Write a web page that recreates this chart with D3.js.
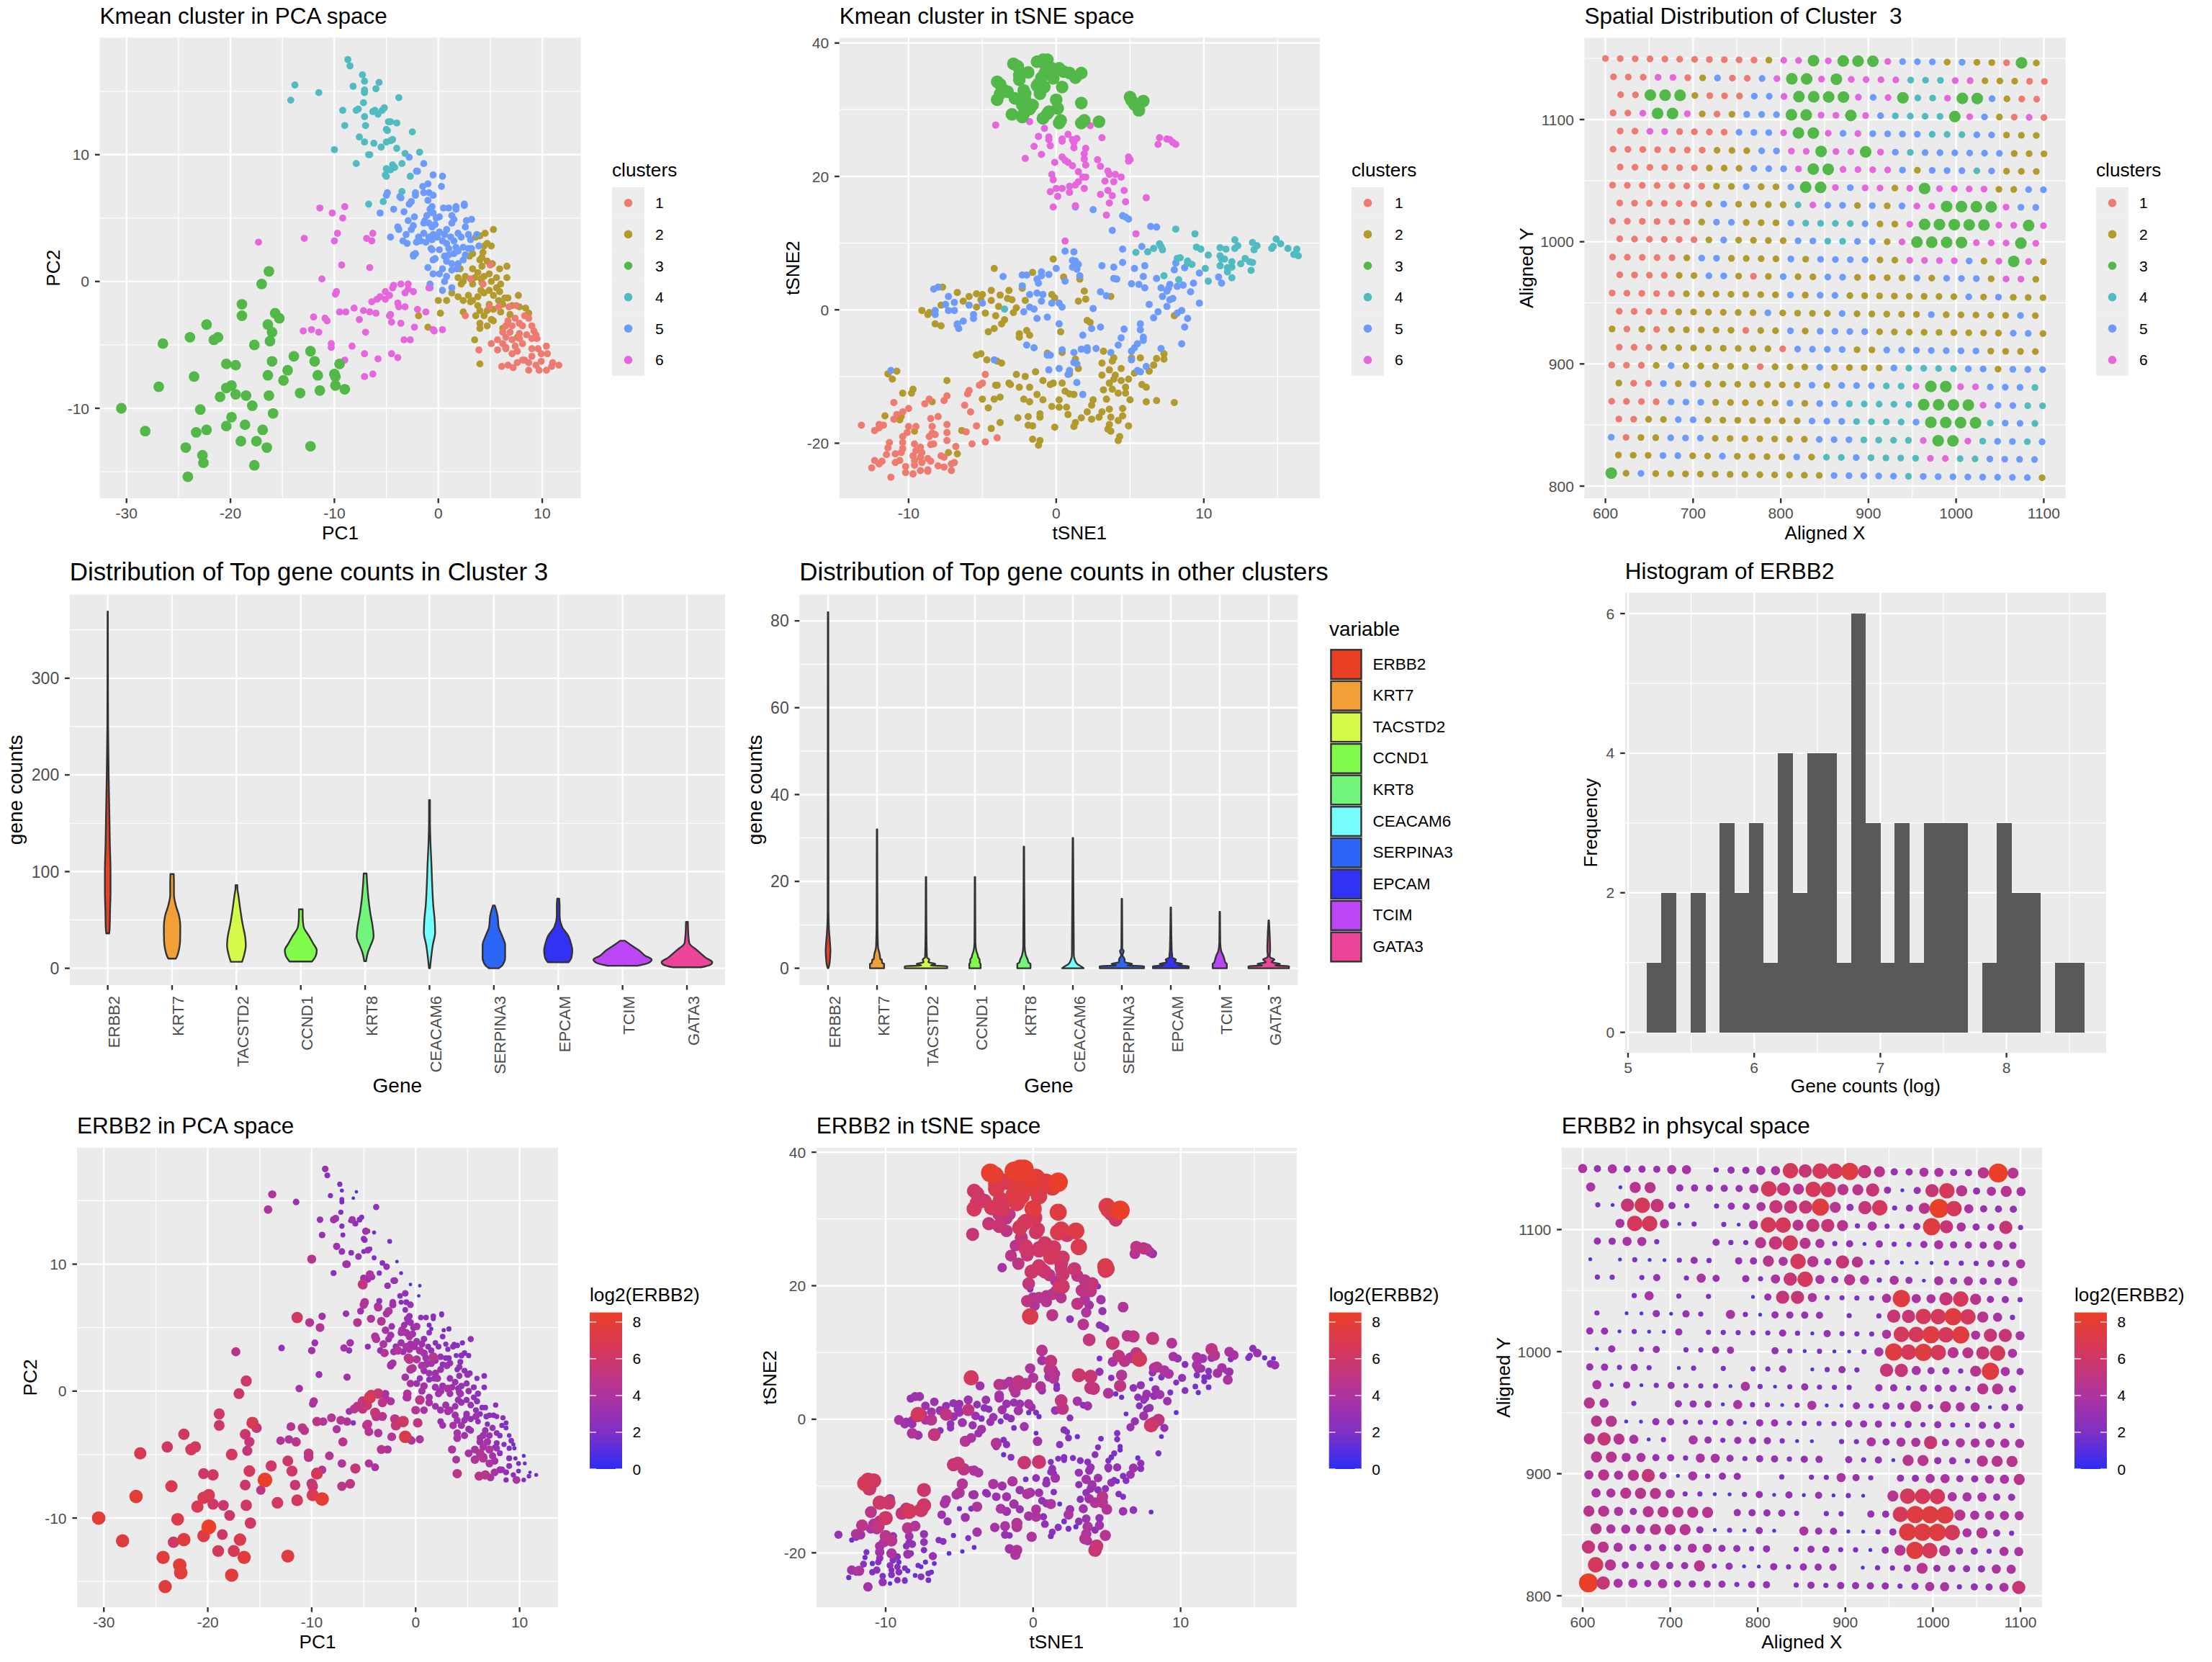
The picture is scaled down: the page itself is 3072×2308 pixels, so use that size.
<!DOCTYPE html>
<html><head><meta charset="utf-8">
<script src="https://d3js.org/d3.v7.min.js"></script>
<style>html,body{margin:0;padding:0;background:#fff}svg{display:block}text{font-family:"Liberation Sans",Arial,sans-serif;white-space:pre}</style>
</head><body><svg id="c" width="3072" height="2308"></svg>
<script>
// ---------- PCA points: [PC1, PC2, log2(ERBB2)]
const pcaCluster1=[[3.1,.2,3],[4.3,-.2,3.5],[5,1.3,3],[4.9,-2,3],[5.8,-2,3.4],[6.8,-2,2.6],[7.5,-1.9,2.4],[8.3,-2.7,2.2],[8.7,-2.9,2],[2.6,-2.7,3.2],[7.4,-2.9,2.8],[6.7,-3.1,3],[7.8,-3.3,2.5],[6.5,-3.5,3.4],[7.1,-3.5,3],[8.1,-3.5,2.4],[9,-3.5,1.8],[6.2,-4,3.4],[6.9,-4,3.6],[7.8,-4.1,2.6],[8.5,-4.2,2.2],[9.2,-3.9,2.4],[9.4,-4.2,1.6],[6.5,-4.4,3.6],[7.1,-4.6,4],[7.8,-4.5,3],[9,-4.5,2.2],[9.5,-4.5,1.6],[5.7,-4.6,3.8],[5.1,-4.9,3.8],[6.2,-4.9,4.4],[7.4,-5.1,3.4],[8.1,-4.9,2.6],[3.9,-5.4,3.8],[5.7,-5.4,4.2],[6.5,-5.2,4.2],[7.6,-5.5,3.6],[9,-5.3,2.6],[9.6,-5.3,1.6],[10.4,-5.1,1.4],[6.1,-6.7,4.6],[6.7,-6.6,4.8],[7.2,-6.8,3.6],[7.6,-6.4,3.8],[7.1,-5.7,3.8],[8.1,-6.2,3.2],[9,-5.9,2.6],[9.9,-5.7,2],[10.5,-5.7,1.4],[8.7,-6.4,2.6],[9.4,-6.6,2.2],[9.7,-7,3.8],[10.4,-7,1.8],[10.9,-6.7,1.8],[11.6,-6.6,1.4],[11,-6.4,1.2],[9.9,-6.3,2],[8.7,-7,2.2],[8.3,-6.2,3],[6.5,-5.3,4.4]];
const pcaCluster2=[[5.3,4.1,2.8],[3.6,3.5,2.6],[4,3.6,2.4],[4.5,3.8,2.2],[4.7,3,2.4],[5.1,2.8,2.2],[4.4,2.8,2.6],[3.3,2.2,3],[3,2,3.4],[4.3,2.3,2.6],[4.2,1.9,2.8],[4,1.7,2.4],[4.7,1.6,2.6],[5.2,1.4,2.6],[6.6,1.2,2.4],[5.9,1,2.2],[4.2,1.2,2.8],[3.3,1,3],[2.1,1,3.4],[3.8,.7,3],[4.9,.6,2.8],[2.6,.4,3.2],[1.9,.3,3.4],[2.4,0,3.6],[3.1,.2,3.8],[3.5,.3,3],[4.4,.4,3],[5.6,.3,2.6],[6.6,.3,2.4],[6,-.2,2.8],[5.1,0,3],[4.2,-.1,3.2],[3.3,-.2,3.2],[2.2,-.2,3.4],[1.3,-.9,3.6],[0,-1.5,4.4],[.8,-1.5,3.6],[1.9,-1.2,3.2],[2.4,-1.5,3.4],[3.1,-1.6,3.6],[3.8,-1.2,3],[4.4,-.9,3],[5.3,-1.1,3],[5.9,-.8,2.8],[6.7,-1.3,2.4],[7.7,-1.1,2.2],[5.8,-1.5,2.6],[4.9,-1.8,3],[3.8,-1.9,3.4],[4,-2.3,3.2],[4.7,-2.3,3],[5.3,-2.2,2.8],[6.2,-1.8,2.4],[7.1,-1.9,2.4],[8.4,-2.1,2.2],[8.7,-2.5,2],[3.6,-2.7,3.6],[4.4,-2.7,3.4],[6,-2.4,2.4],[6.9,-2.6,2.2],[2.4,-2.4,3],[.2,-2.5,5],[-1.9,-2.7,5.4],[-1,-3.6,7],[4,-3.3,3.6],[5.1,-3,3.2],[4,-3.7,3.8],[4.7,-3.5,3.4],[5.3,-3.1,3],[7.6,-4.4,2],[3.5,-4.6,4],[4,-6.5,4.8],[6.2,-3.7,3.2],[7.8,-2,2.2],[6.4,-1.3,2.4],[3.3,-1.5,3.4],[2.9,-1.1,3.4],[4.1,-.7,3.2],[4.9,-.7,2.8],[5.6,-.5,2.6],[4.1,.2,3]];
const pcaCluster3=[[-30.5,-10,7.8],[-28.2,-11.8,7.6],[-26.9,-8.3,7.7],[-26.5,-4.9,6.8],[-24.3,-13.1,7.6],[-24.1,-15.4,7.6],[-23.9,-4.4,6.2],[-23.5,-7.5,6.8],[-23.3,-11.9,6.2],[-22.9,-10.1,7.2],[-22.7,-13.7,7.8],[-22.6,-14.3,7.8],[-22.3,-3.4,6.2],[-22.3,-11.7,7.6],[-21.6,-4.6,6.5],[-21.2,-4.4,6.2],[-21,-9.1,6.8],[-20.4,-11.4,7.2],[-20.4,-6.5,6],[-20.4,-8.4,7],[-19.9,-10.7,8.5],[-19.9,-8.2,6.8],[-19.5,-8.9,6],[-19.5,-6.6,6.2],[-18.9,-1.8,6],[-18.9,-2.7,5.8],[-19,-12.6,6.5],[-18.6,-11.3,5.8],[-18.5,-9,5.8],[-17.9,-9.8,5.8],[-17.7,-5,6.4],[-17.7,-14.5,7.6],[-17.5,-12.6,6.6],[-17,-.2,5.8],[-16.9,-11.7,7],[-16.5,-13.1,7.6],[-16.4,-3.4,5.8],[-16.4,-7.4,5.8],[-16.3,-9,6.2],[-16.3,.8,6],[-16.2,-4.7,5.4],[-16,-4,5.4],[-16,-6.3,6.4],[-15.9,-10.4,6.2],[-15.7,-2.5,6.8],[-15.3,-2.9,5.4],[-14.9,-7.8,4.8],[-14.5,-7,8.4],[-13.9,-5.9,6],[-13.3,-8.8,6.4],[-12.3,-5.5,5.8],[-12.3,-13,7.4],[-11.9,-6.3,6],[-11.6,-7.4,5.6],[-11.4,-8.6,6.4],[-10,-7.3,5.6],[-9.9,-7.5,5.6],[-9.9,-8.2,6.8],[-9.5,-6.5,6.6],[-9,-8.5,7.9]];
const pcaCluster4=[[-8.7,17.5,3],[-8.5,17,2.5],[-7.3,16.3,2.2],[-7.1,15.8,1.5],[-5.7,15.7,1.2],[-6,15.2,1.2],[-8.2,15.4,2.2],[-7.1,15.1,2],[-7.1,14.9,2],[-13.8,15.5,4],[-11.5,14.9,3],[-14.2,14.3,4.2],[-3.8,14.5,2.8],[-7.2,14.1,2.2],[-9.2,13.5,3],[-7.9,13.5,3.4],[-7.7,13.6,3.4],[-6.1,13.5,3.4],[-6.3,13.4,1.5],[-5.8,13.2,2.6],[-5.4,13.5,2.5],[-5.2,13.7,2.2],[-7.1,13,2.2],[-9,12.3,3],[-7,12.3,2],[-4.8,12.6,3.5],[-4.6,12.6,2],[-4,12.5,1.5],[-5,12,2.5],[-4.9,11.9,2.5],[-2.5,11.8,2],[-7.6,11.4,3.4],[-7.1,11,3],[-6.2,10.9,2.4],[-5.5,10.6,3],[-5,11,2],[-4.6,11.1,3],[-4.4,11.2,2],[-4,10.5,2],[-10,10.4,4.6],[-6.6,10,3.6],[-6.7,10,3.6],[-3.2,10.1,2.4],[-1.8,10.2,1.2],[-7.9,9.3,2.6],[-3.5,9.3,2.2],[-4.4,9.2,4],[-4.2,9,3],[-5,8.9,3.4],[-4.6,8.8,3.2],[-5.1,8.4,5.2],[-5,8.3,3.4],[-2.7,8.3,3],[-3.5,7.1,2.6],[-6.7,6.1,3],[-5.3,6.3,3.2]];
const pcaCluster5=[[-2.8,9.8,3],[-1.4,9.3,1.4],[-2.1,8.7,3.2],[-2,8.7,3],[-.5,8.4,1.2],[.4,8.3,1.2],[-1,7.7,3],[-1.5,7.5,2.4],[.3,7.5,1.2],[-1.4,7,2],[-.9,7,2.6],[-.5,6.8,3],[-2.2,7,3],[-2.2,6.8,3.4],[-3.7,6.7,3],[-3.6,6.6,4.2],[-4.9,7,4.2],[-5,6.8,4],[-2.6,6.3,4],[-2.8,6.1,3.6],[-1,6.4,2.4],[-.6,5.9,3],[2.5,6.1,2],[2.5,6,2],[.5,5.8,2.4],[1,5.8,2.4],[1.7,5.9,2.4],[1.7,5.7,2],[-4.3,5.7,4],[-5.6,5.4,4.4],[-3.3,5.5,4.4],[-2.3,5.1,3],[-.8,5.7,3.2],[-.7,5.5,3],[-1.1,5.2,3],[-.5,5.4,3.2],[-.2,5,3.2],[.1,5.1,3.6],[-1.3,4.8,3.8],[-.9,4.6,3.6],[1.3,5.2,2],[1.5,4.9,1.6],[1.3,4.6,2.4],[2.7,4.8,1.6],[3.2,4.9,2.2],[-2.9,4.8,3.6],[-3.9,4.3,4],[-3.8,4.1,4],[-2.4,4.4,3.4],[-2.6,4.1,3.2],[-1.4,4.6,3.2],[-.3,4.5,3.4],[-.6,4.3,3.6],[2.6,4.3,2.4],[3.7,3.7,2],[-3.1,3.7,3.8],[-4.6,3.5,2.6],[-3.4,3.2,3],[-3,3,4.2],[-1.9,3.5,3],[-1.4,3.8,3.4],[-.9,3.5,3.8],[-.5,3.7,3.4],[.1,3.9,3.4],[.8,4.1,3],[.6,3.7,3.2],[1.2,3.5,2.6],[1.9,3.8,2.4],[2.9,3.7,2.2],[-2.1,3.1,3.4],[-1.7,3.2,4.2],[-1.2,3.1,3],[-.6,3.3,3.6],[-.1,3.5,3.2],[.4,3.2,3.8],[.8,3,3.6],[1.5,3.2,2.8],[2.2,3.5,2.6],[3.1,3.3,2.2],[3.9,2.8,2],[-.7,2.6,4.8],[-.6,2.5,4.6],[.1,2.5,4],[1,2.6,3.4],[1.7,2.7,4.6],[2.4,2.7,3],[2.9,2.6,2.4],[3.2,2.6,2.4],[-2.4,2,3.6],[-2.2,2.2,3.6],[-2.4,2.1,3.2],[-.3,1.8,4.2],[.6,2,3.8],[1,2.1,3.4],[1.5,2.2,3.6],[1.9,2.4,3],[2.6,2.1,2.6],[-.5,1.7,4.2],[2.4,1.7,3.2],[1.3,1.4,3.2],[1.9,1.4,3.4],[.8,1.6,3.2],[-1,1.1,3.6],[.4,1,2.8],[1.3,.9,2.6],[1.8,1,3],[-.5,.6,3.6],[.1,.6,3.2],[.8,.4,3.6],[-.8,-.2,4.2],[.6,0,3.4],[.4,-.7,5],[1.3,-.5,3.4],[-.8,-.5,4]];
const pcaCluster6=[[-17.3,3.1,4.6],[-12.9,3.4,3],[-11.4,5.8,6.2],[-10.2,5.4,4.5],[-9.2,5,4.4],[-9,5.9,3.5],[-9.7,3.8,3.2],[-10,3.2,3.6],[-6.9,3.4,3.5],[-6.4,3.2,2.8],[-6.3,3.8,3.6],[-9.3,1.3,3.2],[-6.6,1.1,3.4],[-11.2,.2,3.6],[-9.8,-.8,4],[-9.9,-1,3.6],[-9.5,-2.4,4.8],[-8.9,-2.4,4.2],[-8.1,-2.1,4.4],[-7.2,-2.3,4.4],[-6.6,-2.4,4.2],[-6,-2.5,2.2],[-6.4,-1.6,3.2],[-5.9,-1.4,4.6],[-5.6,-1.2,4.8],[-5.1,-1.4,5],[-4.7,-1.1,5.6],[-5.1,-.8,5.2],[-4.4,-.5,6.8],[-4.3,-.3,5.4],[-3.6,-.2,5.6],[-2.9,-.2,3.6],[-2.9,-.6,4.2],[-3.2,-.9,4.8],[-2.4,-.8,4],[-3.9,-1.7,5.4],[-3.8,-2,4.8],[-3.2,-2,4.6],[-2,-2.2,5],[-1.2,-2.4,6.2],[-4.6,-2.6,4.4],[-4.7,-2.7,4.8],[-4.5,-3.2,4.4],[-3.6,-3.3,4.2],[-2.3,-3.6,4.4],[-3.3,-4.6,4.6],[-2.7,-4.6,4],[-7.6,-3,4],[-12,-2.8,4.4],[-10.9,-2.9,4.8],[-10.7,-3.1,4.6],[-13,-3.9,4.2],[-12.2,-3.8,4.2],[-11.5,-4,4.8],[-7,-4,4.6],[-10.3,-4.9,5],[-10.3,-5.2,5],[-8.3,-5.1,4.4],[-7.1,-5.7,4.2],[-5.8,-6.1,5.4],[-4.5,-5.7,4],[-3.9,-6,3.8],[-9,-6.2,4.2],[-7.1,-7.5,4.8],[-6.3,-7.3,5],[-.5,-3.8,3.6],[-.4,-3.9,4],[.4,-3.8,4],[-.9,-.5,3.6]];
// ---------- tSNE points: [tSNE1, tSNE2, log2(ERBB2)]
const tsneCluster1=[[-4.8,-9.7,4.4],[-5,-11,4.2],[-5.2,-11.3,3.8],[-5.9,-12.1,3.8],[-6,-12.6,3.8],[-7.4,-12.9,6],[-7.6,-13.6,6],[-8.6,-13.4,5],[-8.9,-14.1,5.2],[-10,-14.8,6],[-11,-13.9,4.8],[-10.4,-15.3,4.8],[-10.8,-15.7,4.4],[-11,-16.4,3.8],[-8.5,-16.3,4.6],[-8,-16,4.2],[-13.2,-17.3,3],[-12,-17.2,4],[-11.7,-17.3,3.6],[-12.3,-18.1,1.6],[-12,-17.7,2.4],[-6.2,-14.3,3.2],[-5.8,-15.3,3],[-5.4,-17.4,1.6],[-7.4,-17.2,3],[-9.5,-17.5,3],[-10,-17.5,4.8],[-10.1,-18.4,4],[-10.4,-19,3.6],[-8.4,-17.5,3.2],[-8.4,-18.5,2.8],[-8.6,-19,2.4],[-8.2,-18.7,2.8],[-7.4,-18.4,2.8],[-6.1,-18.3,2.4],[-4,-19.2,1.4],[-4.8,-19.8,1.2],[-5.7,-20.1,1.4],[-7.4,-19.6,2.2],[-6.8,-20.5,3],[-11.3,-19.9,2],[-11.4,-20.7,1.6],[-10.4,-19.9,3.6],[-10.4,-20.8,2.6],[-10.5,-21.4,2.2],[-9.6,-20.1,4],[-9.2,-20.6,2.4],[-9.1,-21.4,1.6],[-8.5,-20.2,3.4],[-8.3,-20.1,2.2],[-10.9,-21.6,1.6],[-11.5,-21.7,2.4],[-12.3,-22.6,3.6],[-12,-23.1,1.4],[-11.8,-22.7,4],[-12.5,-23.7,1.6],[-10.9,-22.9,2.2],[-10.6,-22.6,2.6],[-9.7,-21.9,2.4],[-9.6,-22.6,2],[-9.1,-22.9,2.4],[-8.5,-22.7,1.6],[-7.8,-21.9,1.6],[-7.6,-22.1,1.4],[-8,-23.4,1.4],[-7.6,-23.6,2.4],[-7.1,-23.1,2],[-6.9,-22.9,1.6],[-9.6,-23.3,2.4],[-10.2,-23.5,2.2],[-10.2,-24.4,3],[-9.7,-24.6,1.2],[-9.2,-24.1,2.2],[-8.7,-24,1.4],[-8.7,-24.2,2],[-7.1,-24.1,1.8],[-11.2,-25.1,3.6],[-9.2,-22.1,2.2],[-8.7,-22.3,1.8],[-9.5,-21.1,2.4]];
const tsneCluster2=[[-.2,7.6,4],[-4.2,6.2,6.4],[-1.6,5.6,4],[.5,4.9,4.2],[1.6,4.6,2.4],[-7.7,3.4,3.4],[-6.7,2.6,3.2],[-4.4,2.9,3.4],[-3.2,2.9,3.2],[-2.3,3.2,3.6],[1.9,2.8,5.2],[-5.4,2.4,3],[-5,2.3,3],[-5.9,2,3],[-6.3,1.3,3.4],[-5.1,1.5,3.2],[-4.4,1.4,5],[-3.8,2.2,2.8],[-3.3,1.7,2.8],[-3,1.5,2.6],[-3.9,.5,3.2],[-5.4,.4,3.2],[-7.8,.7,6.4],[-9.1,-.1,3.8],[-8.7,-.7,3.4],[-8.6,-.4,3.2],[-4.8,-.5,3.4],[-4.1,-.9,3],[-2.9,-.4,3],[-2.7,.3,3.2],[-2.1,1.4,3.4],[-.3,2.3,3.6],[-.1,1.8,3],[3.7,2,3.4],[1.5,1.3,3.2],[2,1.6,5],[8,-.9,6],[-8.2,-2.1,4.2],[-7.8,-2.4,3.4],[-6.7,-2.3,5.2],[-3.5,-1.5,3.4],[-3.7,-2.1,3],[-4.2,-2.8,3.8],[-4.6,-3.3,4.4],[2.1,-1.6,2.6],[2.3,-1.9,2],[-2.5,-3.6,4.4],[-2.5,-4.1,2.6],[-2,-3.1,2.2],[-1.8,-3.8,2.6],[.3,-3.3,3.6],[-.6,-6.5,5.6],[.4,-6.4,5.8],[-5.4,-6.8,5.4],[-5.1,-6.6,5.6],[-4.7,-7.5,5],[-4,-7.7,4],[-3.7,-8,3.6],[1.3,-7.4,2.8],[1.5,-8.8,3.6],[3.1,-8,3],[3.2,-6.2,2.4],[3.8,-7.7,3],[3.9,-7.2,3],[3.6,-9,3.6],[4.4,-8.8,3.2],[5.1,-7.2,3],[5.7,-7.2,3],[6.8,-7.3,3.4],[6.6,-8.3,3.2],[7.3,-6.6,2.6],[7.3,-7.4,2.4],[5.3,-9.5,3],[6.3,-9.2,2.4],[-1.4,-9.3,4],[-.9,-10.6,3.2],[-2.7,-9.7,4],[-2.1,-10,3.4],[-3.2,-11,2.8],[-3.1,-11.2,2.6],[-4.1,-11.3,3.2],[-4,-11.3,3.4],[-2.5,-11.6,3.2],[-1.8,-11.6,3.4],[-.4,-11.2,4],[-.2,-11,3.8],[.4,-11,3.2],[.9,-9.6,3],[3.1,-9.8,2.6],[4,-9.8,3.4],[3.9,-10.4,3],[4.4,-10.6,2.6],[4.9,-10.4,2.6],[3.6,-11,2.8],[3.8,-11.9,3.6],[3.2,-12,2.6],[5.8,-11.2,2.2],[6.1,-11.6,2],[4.7,-11.6,4.6],[.6,-12.2,2.8],[.9,-12.6,3],[1.2,-12.7,4],[-5,-13.4,1.6],[-4.2,-13.4,2],[-3.8,-13.1,4],[-2.2,-13.4,3.8],[-1.3,-12.7,3.6],[-1.8,-13.8,3.4],[-.9,-13.5,3],[.2,-13.5,3.8],[-.3,-14.5,3.6],[.2,-14.6,4],[.7,-14.6,2.6],[-4.6,-14.7,3.4],[2.5,-13.5,3.2],[2.4,-14.3,3.8],[3.4,-13.4,3.4],[4.2,-12.5,4.2],[4.7,-12.5,4.4],[5,-13.5,4.2],[6.1,-13.8,3.2],[6.8,-13.6,2.8],[8,-13.9,1.4],[4.5,-14.8,3],[3.6,-14.9,3.2],[3.1,-15.3,2.8],[2.1,-15.3,1.8],[1.7,-16.2,2.6],[.8,-15.7,2.8],[1.3,-16.9,2.4],[1.2,-17.5,2],[2.4,-16.4,2],[2.9,-16.1,1.6],[3.7,-16.1,4],[4.5,-15.9,3.4],[4.2,-16.6,2.6],[4.9,-17.4,4.4],[3.6,-17.2,4],[3.5,-17.9,4.4],[3.7,-18.2,3.4],[-2.6,-16.2,3.6],[-1.9,-16,3.8],[-1.1,-15.6,4.4],[-1.1,-16.1,4.2],[-1.9,-17.3,3],[-1.6,-17.4,2.2],[-.1,-17.6,4],[-3.8,-16.9,3.6],[-4.4,-17.8,2],[-1.6,-19.4,3.6],[-1.1,-19.6,4.2],[-1.2,-20.3,4],[4.3,-19,5.6],[4.2,-19.6,5.6],[-7.4,-10.6,5.8],[-10.4,-12.5,6],[-9.7,-11.9,3.6],[-9.8,-12.5,5.8],[-10.8,-9.2,6.2],[-11.4,-9.6,6.6],[-11.1,-10.4,5.8],[-8.4,-13.8,6.4],[-11.6,-15.9,4.8],[-10.5,-16,5.2],[-10.6,-16.5,3.8],[-9.6,-18.2,4.6],[-6.4,-18.1,2.2],[-7.3,-21.4,1.6],[-6.7,-21.6,1.4]];
const tsneCluster3=[[-2.9,36.9,8.2],[-2.6,36.5,8],[-2.5,35.2,7],[-2.5,34.5,7],[-1.9,35.6,7],[-4,34.2,6],[-3.8,33.8,6],[-3.6,33,6],[-3.3,32.7,6],[-4,31.5,6.4],[-3.8,32.4,6.2],[-2.8,31.7,6.5],[-2.2,32.9,6.5],[-2.1,32.4,6.5],[-2.1,31.5,6.5],[-2.3,30.7,5.5],[-1.6,30.7,5],[-1.8,30.1,5],[-2.2,29.4,5],[-2.3,28.9,5.5],[-3,29.3,5.5],[-1.3,37.2,8.2],[-.9,37.5,8.2],[-.6,37.5,8.2],[-.7,36.5,7.8],[-.8,35.4,7.5],[-1,34.8,7.5],[-1.2,33.9,6.5],[-1.3,33.6,7.3],[-1.1,32.4,7],[-.8,33.4,7.2],[-.3,36.2,8],[-.2,34.7,7.5],[.2,36.2,7.8],[.4,33.4,7],[.5,35.7,7.2],[.9,35.5,7.5],[1.3,34.8,7.5],[1.7,35.5,8.4],[0,31.5,7.5],[.1,30.2,6.5],[-.5,29.7,6],[-.9,28.7,6.5],[-.6,29.4,6.5],[.3,28.4,6.2],[.2,28,6],[1.7,31,7.4],[1.7,28,7],[1.9,28.4,7],[2.9,28.2,7.3],[5,31.9,7.2],[5.1,31.4,6.8],[5.3,30.8,6.2],[5.6,29.9,5.8],[5.9,31.3,8.4]];
const tsneCluster4=[[8.1,12.1,5.4],[9.4,11.4,4.2],[5.4,8.6,3.8],[6.2,8.7,4.8],[6.6,9.2,4.2],[7,9.9,4.8],[7.2,9,6.5],[7.1,9.5,4.5],[7.3,5.1,3],[8.3,4.5,3],[8.2,7.7,4],[8.4,7.8,4.4],[8.9,7.3,4],[8.9,7,3.4],[9.2,6.8,3.8],[9.5,9.4,3.6],[9.8,9.1,3],[10.3,8.2,2.4],[10.1,6.2,3],[10.3,4.3,2.4],[11.1,9.3,3.8],[11.5,9.1,3.4],[12.1,10.5,5],[12.1,9.2,3],[12.3,9.6,4.4],[11.1,8.1,3.8],[11.2,7.6,3.4],[11.4,7.6,3],[11.1,6.6,2.2],[11.6,6.3,1.8],[11.6,5.7,2],[11.9,7.2,2.4],[11.9,6.4,2.2],[11.9,4.8,1.8],[12.5,6.9,3.6],[12.8,7.7,3.6],[13.1,7.2,2],[13.2,5.9,3.8],[13.3,7.1,3.2],[13.3,10.1,3.8],[13.6,9.6,3.8],[13.4,9,2],[14.6,9.2,2.2],[14.7,9.5,2],[14.9,10.6,2.6],[15.2,9.9,3.2],[15.7,9.2,1.6],[16.1,8.3,2.8],[16.3,9.1,1.4],[16.4,8.1,3.2],[-3.5,.1,2.2]];
const tsneCluster5=[[1.3,15.4,3.6],[2.5,15,2.8],[4.5,14.1,2.6],[4.7,13.9,2.4],[4.9,13.6,2.8],[3.8,11.9,5.2],[6.4,12.5,4.6],[6.8,12.4,5],[.6,8.8,3.6],[1.2,8.7,5.2],[1.1,7.4,4.6],[1.3,7.3,4.6],[1.5,6.8,3.8],[1.1,6.4,4],[1.4,6.1,4.2],[0,6.2,4],[.6,4.3,3],[1.6,5.1,2.2],[-3.6,5,3.4],[-2.3,5.2,4.6],[-2,5.2,4],[-1,5.7,5],[-1,5.1,4.6],[-.5,5.3,4.8],[-1.3,4.6,4.4],[-1.2,4,4],[3.1,6.6,5.8],[3.9,6.4,5.6],[4.5,9.1,1.8],[4.5,7.1,3],[5.8,9.5,5],[6,6.6,4.4],[5.3,6.2,2.2],[5.9,5,5],[5.1,3.9,4.2],[5.6,3.8,1.6],[6,3.3,1.6],[6.8,4.7,2.8],[8,6,1.2],[8.1,7,2.8],[8.7,6.3,2.2],[9.7,5.5,2],[9.3,4,2],[11,4.9,1.8],[11.2,4,1.6],[7.1,3.3,2.6],[7.7,3.8,3.2],[7.6,3.2,3],[7.5,2.8,2.4],[8.6,3.7,3.4],[8.2,3.5,3],[7.2,2,2.4],[7.9,1.7,3],[7.7,1.5,2.6],[9.1,2.7,3.2],[9.7,1,1.4],[6.3,.8,1.4],[7.5,.5,3.4],[8.2,-.5,5],[8.5,-.1,5],[6.9,-.3,3],[6.6,-1.2,3],[8.9,-1.3,3],[8.7,-2.6,1.4],[8.5,-5.1,2],[3.9,4.7,5.2],[4.1,4.6,5.2],[3,2.7,3.6],[3.4,2.1,2.4],[-8.3,3.1,3],[-8,3.4,3.4],[-7.3,2,3.2],[-6.9,1.1,3.4],[-7.5,.8,3.4],[-8.2,-.1,3],[-8.2,-.7,3.2],[-7.3,-.1,3.6],[-6.9,-.1,4.6],[-5.9,.7,5],[-5,1,3.2],[-5.6,-.7,2.8],[-5.6,-1.3,2.6],[-6.3,-1.7,2.4],[-6.7,-2.1,2.2],[-6.6,-2.8,2],[-2.3,3.6,3.6],[-1.8,2.3,3.2],[-1.3,2.5,3],[-.9,2.3,3.2],[-1,1.3,3.6],[-.3,1,1.6],[-2.2,-.3,2],[-1.8,.4,2.4],[-1.5,.1,2.8],[-1.3,-1.3,1.8],[-.6,-1.1,3.4],[.2,1,2],[.4,.4,1.6],[2.5,.2,2.4],[.2,-2.1,1.4],[2.4,-2.8,2.4],[3,-2.6,1.6],[1.8,-3.8,2.6],[4.6,-2.9,1.8],[5.7,-2.1,2.2],[5.7,-3,2],[5.9,-4.1,1.6],[5.9,-4.6,1.6],[5.5,-5.1,2],[5.3,-5.7,1.8],[4.4,-4.2,2],[4.2,-5.3,2.4],[-2,-5.3,1.6],[-1.5,-5.7,2.4],[2.1,-5.7,2.2],[2.7,-5.8,2],[2.1,-6.1,2],[.4,-6,2.2],[1.2,-6.4,2],[1.7,-5.9,2],[3.7,-6.4,2.4],[7.1,-5.8,1.6],[5.1,-6.2,2],[-.6,-6.8,1.8],[-.4,-6.8,1.6],[-4.2,-7.5,2.4],[1.2,-7.9,2.6],[1.4,-8.1,2.2],[-.5,-9,1.8],[.2,-8.8,2.8],[.9,-9.1,2.4],[.8,-9.7,1.6],[1.4,-10.9,2.2],[5.1,-7.5,2.2],[5.5,-9.1,2],[5.7,-9.3,1.6],[6.1,-8.5,2.2],[1.8,-12.7,1.4],[-11.2,-9.1,6.2]];
const tsneCluster6=[[-4.1,27.7,5.4],[-1.8,28.2,5],[-.8,27.2,5.4],[2.3,27.6,6],[-1.2,26,4.6],[-.5,25.9,6],[-.5,25.5,6],[-1.5,24.5,4.8],[-.4,24.6,5.4],[-1,23.3,5],[.4,25.6,6],[.4,25.3,6],[.8,26.3,6.2],[1.1,25.5,6.2],[1.4,25.7,6.2],[1.2,25.1,6],[1.2,24.3,6.5],[2,24.2,6],[3.1,25.8,7],[1.9,23.4,5.8],[-2.1,22.7,3.6],[-.1,22.1,6],[.4,22.9,6],[.6,22.4,5.8],[.8,22.1,5.6],[1.1,21.6,5],[1.5,20.7,4],[1.9,22.6,5.4],[2,21.7,5.8],[2.8,22.5,5.6],[3,21.5,5],[3.5,20.8,5],[3.6,20.3,4.6],[4,20.3,5.4],[4.4,19.9,2],[3.9,19.2,5],[3.3,19.3,5],[-.3,20.3,5.2],[-.2,19.5,2.4],[1.8,19.9,6],[2,19.9,6],[1.5,19.2,4],[1.3,18.7,4.6],[.9,18.5,4.5],[.4,18.2,4.6],[0,18.2,4.4],[-.4,17.7,5],[.1,17,4],[.9,17.6,4.5],[1.9,18.2,4.4],[3,17.3,5],[3.5,17.9,4.2],[3.8,17.1,3.6],[4.6,17.9,3.6],[3.6,16,4],[4.7,16.2,3],[6.1,16.8,4.2],[-.2,15.4,7],[1.3,15.6,4.8],[3.4,14.2,4.6],[5.4,11.4,5.6],[.6,10.3,4.6],[4.9,22.9,7],[5,22.5,6.6],[4.9,22.3,6.4],[7,25.8,5],[6.9,24.8,4.2],[7.5,25.6,5],[7.7,25.5,4.4],[7.9,25.1,3.8],[8.1,24.8,3.4]];
// ---------- spatial grid
const spotRowY=[1150,1134.9,1120.3,1105.4,1090.6,1075.7,1061.1,1046.3,1031.7,1016.9,1002.3,987.4,972.9,958,943.1,928.6,913.7,899.1,884.3,869.4,854.9,840,825.4,810.6];
const spotRowX=[600,609.2,617.3,608.7,616.8,608.7,616.8,608.1,616.3,608.1,616.3,608.1,616.3,607.6,615.8,607.6,615.8,607.1,615.3,607.1,615.3,606.6,614.8,606.6];
const spotColDX=[0,16.9,33.9,50.8,67.8,84.7,101.7,118.6,135.6,152.5,169.5,186.4,203.4,220.3,237.3,254.2,271.2,288.1,305.1,322,339,355.9,372.9,389.8,406.8,423.7,440.7,457.6,474.6,491.5];
const spotColDY=[0,-.13,-.26,-.39,-.52,-.65,-.78,-.91,-1.04,-1.17,-1.3,-1.43,-1.56,-1.69,-1.82,-1.95,-2.08,-2.21,-2.34,-2.47,-2.6,-2.73,-2.86,-2.99,-3.12,-3.25,-3.38,-3.51,-3.64,-3.77];
const spotClusters=[
"111111111112 66 3 6 333 6 555 2 5 22 1 3 2","111 66 1 2 5 11 5 6 33 6 3 6666 444 66 222 11","11 333 2 111 55 6 3333 6 5 6 3 44 6 33 5 2 11","11 6 33 6 2 1 2 555 33 66 3 6 5 4444 3 6 5 2 1 6 1",
"11 66 1111 555 6 33 6 5 6 5555 444 55 222","1111111 222 55 66 3 66 3 6 5 4 555555 222","111111 222 555 6 33 6666 5 2 555 4 5 222","1111111 22 5 22 5 33 6 5 66 2 6 3 6666 22 55",
"111111 2 5 2222 4 6 55 2 5 2 5 66 3333 6 55","111111 2 55 222 5 4444 5 22 6 33333 66 3 6","111111 2 5 2222 55 44 55 2 6 3333 666 3 6","11111 2 55 2222 5 2 5555 22 6666 5 2 6 3 6 2",
"1111 22 55 2 1 2 5 22 55 2222 5 2 555 2 66 2","11111 2222222 5 2 55 22222222 5 2 5 222","1111 222222 5 2222 5 22222 5 22222 5 2","2 1 2 1 22222 1 22 5 2 5555 222222222 55 2",
"111 22222222 1 5555 22 5555555 2222","111 2 5 22222 1 222 5 2222 5 4444 55 2 555","2 11 5 2 5 2222222 5 2 555 44 6 33 66 555 4","1111 555 22222 5 2 55 44444 3333 6 55 44",
"11 22 55 2222222 555 4444 5 3333 4 55 4","5 1 22 555 2222222 555 4444 6 33 6 4 55 4 5","222 55 22 5 2222 5 2 44 5 4444 66 44 5555","3 2 5 222222222222 55555 4 55555555 2"];
// spot ERBB2 level per spot: 0 = no spot drawn, 1..9 index into spotLevelLog2
const spotLevelLog2=[0,1.2,2,3,3.8,4.6,5.5,6.5,7.5,8.4];
const spotLevels=[
"4 3 4 3 3 3 4 4 0 2 3 3 4 4 7 6 7 7 8 6 5 3 3 4 4 3 3 5 9 5","4 0 1 5 5 0 3 3 3 3 3 4 7 6 5 7 7 5 5 6 3 1 3 6 7 5 3 4 5 4","2 1 6 7 6 3 2 0 2 3 3 4 6 6 6 8 5 3 6 7 2 3 5 9 7 4 3 3 3","0 0 4 7 7 4 1 2 0 2 1 4 7 7 5 6 6 5 2 4 2 2 3 8 6 4 3 3 6 2",
"3 3 4 4 2 0 0 0 3 2 2 5 6 7 5 4 2 3 1 3 2 2 3 4 3 3 3 4 3","1 0 1 2 1 1 2 3 2 0 3 3 5 4 7 5 3 6 5 2 2 1 1 1 2 2 2 3 3 4","2 2 0 2 3 0 2 4 3 0 3 2 4 6 7 4 3 5 4 2 4 3 1 4 3 4 3 3 4","0 0 0 2 4 0 2 0 2 0 0 1 3 6 6 4 2 2 2 2 4 8 4 4 6 7 5 3 3 2",
"2 0 1 1 3 1 3 2 0 4 2 1 3 3 3 3 0 2 0 2 6 6 7 7 8 7 5 4 2","3 3 1 2 1 1 3 0 2 2 2 2 2 3 2 1 3 2 2 2 4 7 7 8 7 8 4 6 6 4","1 3 0 2 3 0 2 2 3 3 0 0 3 2 1 2 1 1 2 4 8 7 8 7 5 5 6 7 4","3 3 2 3 2 0 1 2 0 2 0 2 2 3 0 1 2 3 2 0 6 6 4 3 3 2 5 8 4 3",
"4 1 3 1 2 3 2 2 2 1 4 2 1 2 3 2 2 2 0 3 3 2 3 3 3 2 5 5 3","5 4 0 2 0 0 3 3 3 1 4 2 2 1 2 4 1 1 3 2 3 3 5 2 5 4 4 1 3 3","5 5 1 1 3 3 2 2 2 3 1 3 3 2 2 2 2 3 3 3 2 3 2 3 2 2 3 3 2","5 6 5 4 1 2 0 4 3 2 3 3 3 2 1 1 0 2 2 4 3 4 4 6 3 4 4 4 4 4",
"5 5 4 4 3 3 2 4 4 3 2 3 3 2 3 3 0 3 2 3 1 5 5 3 3 2 5 5 5","4 5 4 5 6 3 1 4 2 3 3 0 0 2 0 2 2 4 3 2 0 3 3 4 4 3 3 4 4 5","4 4 5 5 5 4 2 2 1 1 2 3 1 3 1 3 1 2 1 0 5 7 7 7 4 4 4 3 3","5 5 4 3 5 5 5 5 5 0 3 3 3 3 2 0 2 2 0 3 3 7 8 8 8 5 4 4 4 4",
"5 4 4 4 5 5 5 3 1 2 1 3 1 0 4 3 3 1 1 2 3 8 8 8 7 4 5 3 2","6 5 4 3 3 3 3 4 4 3 3 2 3 0 2 3 3 2 2 1 3 5 8 7 5 3 3 2 4 4","7 5 3 3 4 3 3 5 2 3 1 1 3 2 3 3 3 0 1 2 2 3 5 3 3 3 3 4 4","9 6 4 4 3 4 3 3 3 3 2 3 3 0 2 3 2 3 3 3 3 2 3 4 4 2 3 3 4 6"];
// ---------- genes and violins: [count, density]
const genes=["ERBB2","KRT7","TACSTD2","CCND1","KRT8","CEACAM6","SERPINA3","EPCAM","TCIM","GATA3"];
const geneColors=["#EA4026","#F0A037","#D5FB4A","#80FB4A","#72F57B","#75FCFD","#2B66F6","#3232F5","#BC46F5","#EB4499"];
const violinCluster3=[
[[36,3],[40,4],[60,5],[80,6],[100,6],[130,4.5],[160,3.5],[200,2],[250,.8],[300,.5],[369,.3]],
[[10,8],[13,11],[20,15],[28,17],[43,17.5],[54,15],[65,8],[76,4],[87,4],[97.5,3.5]],
[[6.7,12],[13,16],[24,20],[31,19],[46,13],[65,7],[76,4],[83,2],[86,2]],
[[7,24],[13,32],[18.5,34],[26,26],[33,18],[43,6],[54,4],[61,4]],
[[7.4,2],[16.6,6],[24,12],[33,18],[43,16],[57,11],[72,7],[83,5],[98,3]],
[[0,1],[9,3],[24,7],[37,12],[50,11],[65,8],[83,6],[109,4],[131,2],[154,1],[174,1]],
[[0,10],[3,18],[11,24],[24,24],[33,18],[43,10],[54,8],[65,2]],
[[6.3,22],[11,28],[18.5,30],[26,27],[33,22],[43,8],[54,3],[65,3],[72,2]],
[[2.6,32],[5.5,55],[9,62],[13,48],[18.5,35],[24,18],[28.5,5]],
[[1,30],[3.7,50],[6.3,54],[11,40],[18.5,22],[26,5],[35,3],[48,2]]];
const violinOther=[
[[0,.5],[.5,2],[1,3],[2,4],[4,5],[6,4],[8,2.5],[10,1.5],[14,.8],[82,.5]],
[[0,15],[1,15],[1.2,11],[2,10],[2.1,7],[3,6],[5,2],[10,1],[32,.5]],
[[0,45],[.5,45],[.6,10],[1,20],[1.4,5],[2,7],[2.5,2],[8,1],[21,.5]],
[[0,12],[1,12],[1.3,10],[2,10],[2.5,7],[3,6],[4,3],[6,1],[21,.5]],
[[0,14],[1,14],[1.3,10],[2,8],[3,4],[5,1.5],[28,.5]],
[[0,23],[.4,18],[1,9],[2,4],[3,2],[30,.5]],
[[0,47],[.5,47],[.6,12],[1,22],[1.4,6],[2,6],[3,1.5],[4,4],[4.5,1],[16,.5]],
[[0,38],[.5,38],[.6,15],[1,24],[1.4,8],[2,11],[2.5,3],[3,3],[4,2],[14,.5]],
[[0,15],[1,15],[1.3,12],[2,10],[3,7],[4,3],[6,1],[13,.5]],
[[0,43],[.5,43],[.6,14],[1,24],[1.4,6],[2,12],[2.5,3],[3,2],[4,3],[11,.5]]];
// ---------- histogram
const histEdges=[5.149,5.265,5.38,5.496,5.612,5.727,5.843,5.958,6.074,6.19,6.305,6.421,6.536,6.652,6.768,6.883,6.999,7.114,7.23,7.346,7.461,7.577,7.692,7.808,7.924,8.039,8.155,8.27,8.386,8.502,8.617];
const histCounts=[1,2,0,2,0,3,2,3,1,4,2,4,4,1,6,3,1,3,1,3,3,3,0,1,3,2,2,0,1,1];
// ---------- ticks and legends
const clusterLabels=["1","2","3","4","5","6"];
const clusterColors=["#EE7B6F","#B39A2D","#52B848","#50BBC0","#6D9BFB","#E566DD"];
const log2Ticks=[0,2,4,6,8];
const log2Stops=[0,2,4,6,8.52];
const log2StopColors=["#2B2DF6","#8030C4","#AE349E","#CE3768","#EB3F26"];
const sizeStops=[1,2,3,4,5,6,7,8,8.5];
const radiusStops=[2.4,3.6,5,6.7,8.4,10,11.4,12.6,13.3];
const tsneRadiusStops=[2.7,4.2,5.7,7.2,8.6,10,11.4,12.6,13.6];
const pcaRadiusStops=[2.2,3.4,4.6,5.7,6.7,7.7,8.7,9.6,10.4];

const svg=d3.select("#c");
svg.append("rect").attr("width",3072).attr("height",2308).attr("fill","#fff");
const defs=svg.append("defs");
const TXT="#4D4D4D",TICK="#333333",BG="#EBEBEB";
function label(g,x,y,t,size,opt={}){
  const e=g.append("text").attr("x",x).attr("y",y).attr("font-size",size).attr("fill",opt.fill||"#000").attr("text-anchor",opt.anchor||"start").text(t);
  if(opt.rotate) e.attr("transform",`rotate(-90 ${x} ${y})`);
  return e;
}
function panel(c){
  const g=svg.append("g");
  const [l,r]=c.panelX||c.xs.range(),[b,t]=c.ys.range();
  const yTickSize=c.yTickSize||21,axisSize=c.axisSize||26.2,titleSize=c.titleSize||31.5;
  g.append("rect").attr("x",l).attr("y",t).attr("width",r-l).attr("height",b-t).attr("fill",BG);
  const vl=(v,w,s)=>g.append("line").attr("x1",s(v)).attr("x2",s(v)).attr("y1",t).attr("y2",b).attr("stroke","#fff").attr("stroke-width",w);
  const hl=(v,w)=>g.append("line").attr("y1",c.ys(v)).attr("y2",c.ys(v)).attr("x1",l).attr("x2",r).attr("stroke","#fff").attr("stroke-width",w);
  (c.xMinor||[]).forEach(v=>vl(v,1.2,c.xs));(c.yMinor||[]).forEach(v=>hl(v,1.2));
  c.xTicks.forEach(v=>vl(v,2.4,c.xs));c.yTicks.forEach(v=>hl(v,2.4));
  c.xTicks.forEach(v=>{
    g.append("line").attr("x1",c.xs(v)).attr("x2",c.xs(v)).attr("y1",b).attr("y2",b+6.6).attr("stroke",TICK).attr("stroke-width",2.4);
    if(c.rotX){label(g,c.xs(v)+16.5,b+15,v,22,{fill:TXT,anchor:"end",rotate:true});}
    else label(g,c.xs(v),b+27.5,v,21,{fill:TXT,anchor:"middle"});
  });
  c.yTicks.forEach(v=>{
    g.append("line").attr("y1",c.ys(v)).attr("y2",c.ys(v)).attr("x1",l-6.6).attr("x2",l).attr("stroke",TICK).attr("stroke-width",2.4);
    label(g,l-14.5,c.ys(v)+yTickSize*.36,v,yTickSize,{fill:TXT,anchor:"end"});
  });
  label(g,l,t-19.5,c.title,titleSize);
  label(g,(l+r)/2,c.xTitleY,c.xTitle,axisSize,{anchor:"middle"});
  label(g,l+c.yTitleDX,(t+b)/2,c.yTitle,axisSize,{anchor:"middle",rotate:true});
  return g;
}
function clusterLegend(lx,top){
  const g=svg.append("g");
  label(g,lx,top-15,"clusters",26.2);
  clusterLabels.forEach((k,i)=>{
    g.append("rect").attr("x",lx).attr("y",top+i*43.6).attr("width",45).attr("height",43.6).attr("fill","#EDEDED");
    g.append("circle").attr("cx",lx+22.5).attr("cy",top+21.8+i*43.6).attr("r",5.8).attr("fill",clusterColors[i]);
    label(g,lx+60,top+21.8+i*43.6+7.5,k,21);
  });
}
const eColor=d3.scaleLinear().domain(log2Stops).range(log2StopColors);
function barLegend(lx,id){
  const g=svg.append("g");
  const top=1822.6,h=217.4,ey=d3.scaleLinear().domain([0,8.52]).range([top+h,top]);
  label(g,lx,1807,"log2(ERBB2)",26.2);
  const lg=defs.append("linearGradient").attr("id",id).attr("x1",0).attr("x2",0).attr("y1",1).attr("y2",0);
  log2Stops.forEach((s,i)=>lg.append("stop").attr("offset",s/8.52).attr("stop-color",log2StopColors[i]));
  g.append("rect").attr("x",lx).attr("y",top).attr("width",45).attr("height",h).attr("fill",`url(#${id})`);
  log2Ticks.forEach(v=>{
    [[lx,lx+9],[lx+36,lx+45]].forEach(p=>g.append("line").attr("x1",p[0]).attr("x2",p[1]).attr("y1",ey(v)).attr("y2",ey(v)).attr("stroke","#fff").attr("stroke-width",1.2));
    label(g,lx+59.5,ey(v)+7.5,v,21);
  });
}
const pcaAll=[pcaCluster2,pcaCluster5,pcaCluster4,pcaCluster6,pcaCluster3,pcaCluster1];
const tsneAll=[tsneCluster2,tsneCluster5,tsneCluster4,tsneCluster6,tsneCluster3,tsneCluster1];
const clusterOrder=[1,4,3,5,2,0];
function dots(g,rows,xs,ys,color,radius){
  g.append("g").selectAll("circle").data(rows).join("circle")
    .attr("cx",d=>xs(d[0])).attr("cy",d=>ys(d[1])).attr("r",radius).attr("fill",color);
}
const spots=[];
spotRowY.forEach((y,r)=>{
  const cl=spotClusters[r].replace(/ /g,""),lv=spotLevels[r].split(" ");
  for(let i=0;i<cl.length;i++) spots.push({x:spotRowX[r]+spotColDX[i],y:y+spotColDY[i],c:+cl[i],e:spotLevelLog2[+lv[i]]});
});

// ---- P1
{const xs=d3.scaleLinear().domain([-32.58,13.71]).range([138.5,806.6]),ys=d3.scaleLinear().domain([-17.1,19.23]).range([692,52.3]);
 const g=panel({xs,ys,title:"Kmean cluster in PCA space",xTitle:"PC1",yTitle:"PC2",xTitleY:749,yTitleDX:-55,xTicks:[-30,-20,-10,0,10],yTicks:[-10,0,10],xMinor:[-25,-15,-5,5],yMinor:[-15,-5,5,15]});
 pcaAll.forEach((rows,i)=>dots(g,rows,xs,ys,clusterColors[clusterOrder[i]],clusterOrder[i]==2?7.4:4.9));
 clusterLegend(850,260);}
// ---- P2
{const xs=d3.scaleLinear().domain([-14.69,17.86]).range([1165.7,1833]),ys=d3.scaleLinear().domain([-28.26,40.8]).range([692,52.3]);
 const g=panel({xs,ys,title:"Kmean cluster in tSNE space",xTitle:"tSNE1",yTitle:"tSNE2",xTitleY:749,yTitleDX:-55.5,xTicks:[-10,0,10],yTicks:[-20,0,20,40],xMinor:[-5,5,15],yMinor:[-10,10,30]});
 tsneAll.forEach((rows,i)=>dots(g,rows,xs,ys,clusterColors[clusterOrder[i]],clusterOrder[i]==2?8.8:5));
 clusterLegend(1877,260);}
// ---- P3
{const xs=d3.scaleLinear().domain([576,1124.9]).range([2200.4,2868.7]),ys=d3.scaleLinear().domain([790,1167]).range([692,52.3]);
 const g=panel({xs,ys,title:"Spatial Distribution of Cluster  3",xTitle:"Aligned X",yTitle:"Aligned Y",xTitleY:749,yTitleDX:-71,xTicks:[600,700,800,900,1000,1100],yTicks:[800,900,1000,1100],xMinor:[650,750,850,950,1050],yMinor:[850,950,1050,1150]});
 g.append("g").selectAll("circle").data(spots).join("circle").attr("cx",d=>xs(d.x)).attr("cy",d=>ys(d.y)).attr("r",d=>d.c==3?8.1:4.7).attr("fill",d=>clusterColors[d.c-1]);
 clusterLegend(2911,260);}
// ---- violins
function violins(g,data,xs,ys,step){
  const w=d3.scaleLinear().domain([0,step.density]).range([0,step.px]);
  data.forEach((v,i)=>{
    const cx=xs(genes[i]);
    const area=d3.area().y(d=>ys(d[0])).x0(d=>cx-w(d[1])).x1(d=>cx+w(d[1])).curve(d3.curveMonotoneY);
    g.append("path").attr("d",area(v)).attr("fill",geneColors[i]).attr("stroke",TICK).attr("stroke-width",2.4).attr("stroke-linejoin","round");
  });
}
{const xs=d3.scalePoint().domain(genes).range([149.6,954]),ys=d3.scaleLinear().domain([-17.4,386.5]).range([1368,825.7]);
 const g=panel({xs,ys,panelX:[96.7,1007],rotX:true,titleSize:34.9,axisSize:28,yTickSize:23,title:"Distribution of Top gene counts in Cluster 3",xTitle:"Gene",yTitle:"gene counts",xTitleY:1517,yTitleDX:-65.7,xTicks:genes,yTicks:[0,100,200,300],yMinor:[50,150,250,350]});
 violins(g,violinCluster3,xs,ys,{density:137,px:89.4});}
{const xs=d3.scalePoint().domain(genes).range([1150,1762]),ys=d3.scaleLinear().domain([-3.88,86.05]).range([1368,825.7]);
 const g=panel({xs,ys,panelX:[1110.2,1802.6],rotX:true,titleSize:34.9,axisSize:28,yTickSize:23,title:"Distribution of Top gene counts in other clusters",xTitle:"Gene",yTitle:"gene counts",xTitleY:1517,yTitleDX:-52,xTicks:genes,yTicks:[0,20,40,60,80],yMinor:[10,30,50,70]});
 violins(g,violinOther,xs,ys,{density:104,px:68});
 const lg=svg.append("g");
 label(lg,1846,883,"variable",28);
 genes.forEach((n,i)=>{
   const y=900.8+i*43.6;
   lg.append("rect").attr("x",1847).attr("y",y).attr("width",45).attr("height",43.6).attr("fill","#EDEDED");
   lg.append("rect").attr("x",1848.5).attr("y",y+1.5).attr("width",42).attr("height",40.6).attr("fill",geneColors[i]).attr("stroke",TICK).attr("stroke-width",2.4);
   label(lg,1906.4,y+21.8+7,n,22.5);
 });}
// ---- histogram
{const xs=d3.scaleLinear().domain([4.976,8.79]).range([2256.8,2925]),ys=d3.scaleLinear().domain([-.293,6.3]).range([1462,823]);
 const g=panel({xs,ys,title:"Histogram of ERBB2",xTitle:"Gene counts (log)",yTitle:"Frequency",xTitleY:1517,yTitleDX:-39,xTicks:[5,6,7,8],yTicks:[0,2,4,6],xMinor:[5.5,6.5,7.5,8.5],yMinor:[1,3,5]});
 g.append("g").attr("shape-rendering","crispEdges").selectAll("rect").data(histCounts).join("rect").attr("x",(d,i)=>xs(histEdges[i])).attr("width",(d,i)=>xs(histEdges[i+1])-xs(histEdges[i])+.3).attr("y",d=>ys(d)).attr("height",d=>ys(0)-ys(d)).attr("fill","#595959");}
// ---- P7
const rPca=d3.scaleLinear().domain(sizeStops).range(pcaRadiusStops).clamp(true);
const rTsne=d3.scaleLinear().domain(sizeStops).range(tsneRadiusStops).clamp(true);
const rBig=d3.scaleLinear().domain(sizeStops).range(radiusStops).clamp(true);
{const xs=d3.scaleLinear().domain([-32.58,13.7]).range([107,775]),ys=d3.scaleLinear().domain([-17.03,19.17]).range([2232,1593.9]);
 const g=panel({xs,ys,title:"ERBB2 in PCA space",xTitle:"PC1",yTitle:"PC2",xTitleY:2289,yTitleDX:-56,xTicks:[-30,-20,-10,0,10],yTicks:[-10,0,10],xMinor:[-25,-15,-5,5],yMinor:[-15,-5,5,15]});
 const all=pcaAll.flat().sort((a,b)=>a[2]-b[2]);
 g.append("g").selectAll("circle").data(all).join("circle").attr("cx",d=>xs(d[0])).attr("cy",d=>ys(d[1])).attr("r",d=>rPca(d[2])).attr("fill",d=>eColor(d[2]));
 barLegend(819,"g7");}
// ---- P8
{const xs=d3.scaleLinear().domain([-14.7,17.88]).range([1133.7,1801]),ys=d3.scaleLinear().domain([-28.16,40.66]).range([2232,1593.9]);
 const g=panel({xs,ys,title:"ERBB2 in tSNE space",xTitle:"tSNE1",yTitle:"tSNE2",xTitleY:2289,yTitleDX:-55.5,xTicks:[-10,0,10],yTicks:[-20,0,20,40],xMinor:[-5,5,15],yMinor:[-10,10,30]});
 const all=tsneAll.flat().sort((a,b)=>a[2]-b[2]);
 g.append("g").selectAll("circle").data(all).join("circle").attr("cx",d=>xs(d[0])).attr("cy",d=>ys(d[1])).attr("r",d=>rTsne(d[2])).attr("fill",d=>eColor(d[2]));
 barLegend(1845.7,"g8");}
// ---- P9
{const xs=d3.scaleLinear().domain([576,1124.7]).range([2168.8,2836]),ys=d3.scaleLinear().domain([790.6,1167]).range([2232,1593.9]);
 const g=panel({xs,ys,title:"ERBB2 in phsycal space",xTitle:"Aligned X",yTitle:"Aligned Y",xTitleY:2289,yTitleDX:-71.7,xTicks:[600,700,800,900,1000,1100],yTicks:[800,900,1000,1100],xMinor:[650,750,850,950,1050],yMinor:[850,950,1050,1150]});
 g.append("g").selectAll("circle").data(spots.filter(s=>s.e>0)).join("circle").attr("cx",d=>xs(d.x)).attr("cy",d=>ys(d.y)).attr("r",d=>rBig(d.e)).attr("fill",d=>eColor(d.e));
 barLegend(2881,"g9");}
</script></body></html>
